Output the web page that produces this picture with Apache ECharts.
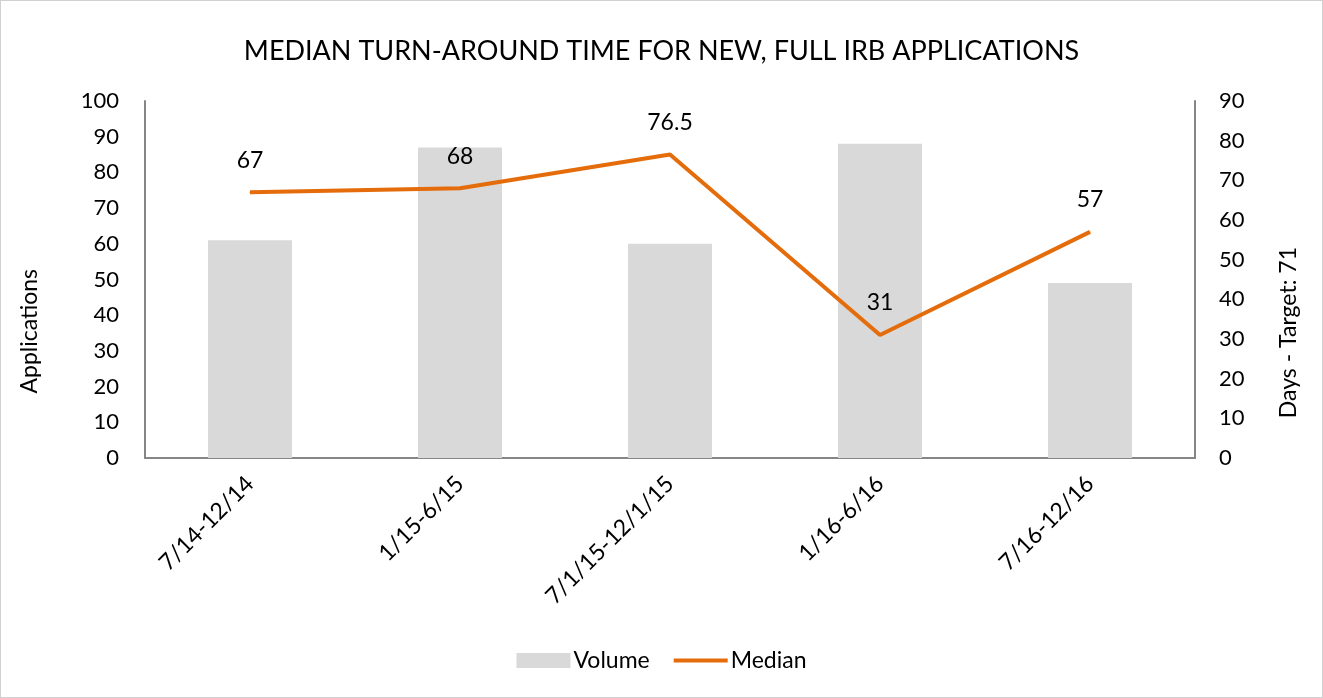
<!DOCTYPE html>
<html>
<head>
<meta charset="utf-8">
<script src="https://cdn.jsdelivr.net/npm/echarts@6/dist/echarts.min.js"></script>
<style>
html,body{margin:0;padding:0;background:#fff;}
#main{width:1323px;height:698px;box-sizing:border-box;border:1px solid #d0d0d0;}
</style>
</head>
<body>
<div id="main"></div>
<script>
// periods
var categories = ['7/14-12/14', '1/15-6/15', '7/1/15-12/1/15', '1/16-6/16', '7/16-12/16'];
// applications volume (left axis)
var volume = [61, 87, 60, 88, 49];
// median days (right axis)
var median = [67, 68, 76.5, 31, 57];

var fontFam = 'Lato, "Open Sans", sans-serif';
var chart = echarts.init(document.getElementById('main'));

var option = {
	animation: false,
	textStyle: {fontFamily: fontFam, color: '#000'},
	title: {
		text: 'MEDIAN TURN-AROUND TIME FOR NEW, FULL IRB APPLICATIONS',
		left: 'center',
		top: 32,
		textStyle: {fontSize: 27, fontWeight: 'normal', color: '#000', fontFamily: fontFam}
	},
	legend: {
		bottom: 20,
		left: 'center',
		itemGap: 24,
		itemWidth: 54,
		itemHeight: 15,
		textStyle: {fontSize: 23, color: '#000', padding: [0, 0, 0, -2]},
		data: [
			{name: 'Volume', icon: 'rect'},
			{name: 'Median', icon: 'path://M0,0 M0,15 M0,5.5 L54,5.5 L54,9.5 L0,9.5 Z'}
		]
	},
	grid: {left: 144, right: 127, top: 100, bottom: 239},
	xAxis: {
		type: 'category',
		data: categories,
		axisLine: {lineStyle: {color: '#868686', width: 2}},
		axisTick: {show: false},
		axisLabel: {rotate: 45, fontSize: 23, color: '#000', margin: 22, interval: 0}
	},
	yAxis: [
		{
			type: 'value', min: 0, max: 100, interval: 10,
			axisLine: {show: true, lineStyle: {color: '#868686', width: 2}},
			axisTick: {show: false},
			splitLine: {show: false},
			axisLabel: {fontSize: 22, color: '#000', margin: 26}
		},
		{
			type: 'value', min: 0, max: 90, interval: 10,
			axisLine: {show: true, lineStyle: {color: '#868686', width: 2}},
			axisTick: {show: false},
			splitLine: {show: false},
			axisLabel: {fontSize: 22, color: '#000', margin: 24}
		}
	],
	graphic: [
		{
			type: 'text', left: 17, top: 268, rotation: Math.PI / 2,
			style: {text: 'Applications', fontSize: 23, fill: '#000', fontFamily: fontFam}
		},
		{
			type: 'text', left: 1276, top: 246, rotation: Math.PI / 2,
			style: {text: 'Days - Target: 71', fontSize: 23, fill: '#000', fontFamily: fontFam}
		}
	],
	series: [
		{
			name: 'Volume',
			type: 'bar',
			yAxisIndex: 0,
			data: volume,
			barWidth: '40%',
			itemStyle: {color: '#d9d9d9'}
		},
		{
			name: 'Median',
			type: 'line',
			yAxisIndex: 1,
			data: median,
			symbol: 'circle',
			symbolSize: 1,
			lineStyle: {color: '#e46c0a', width: 4},
			itemStyle: {color: '#e46c0a'},
			label: {show: true, position: 'top', distance: 20, fontSize: 23, color: '#000'}
		}
	]
};

chart.setOption(option);
</script>
</body>
</html>
